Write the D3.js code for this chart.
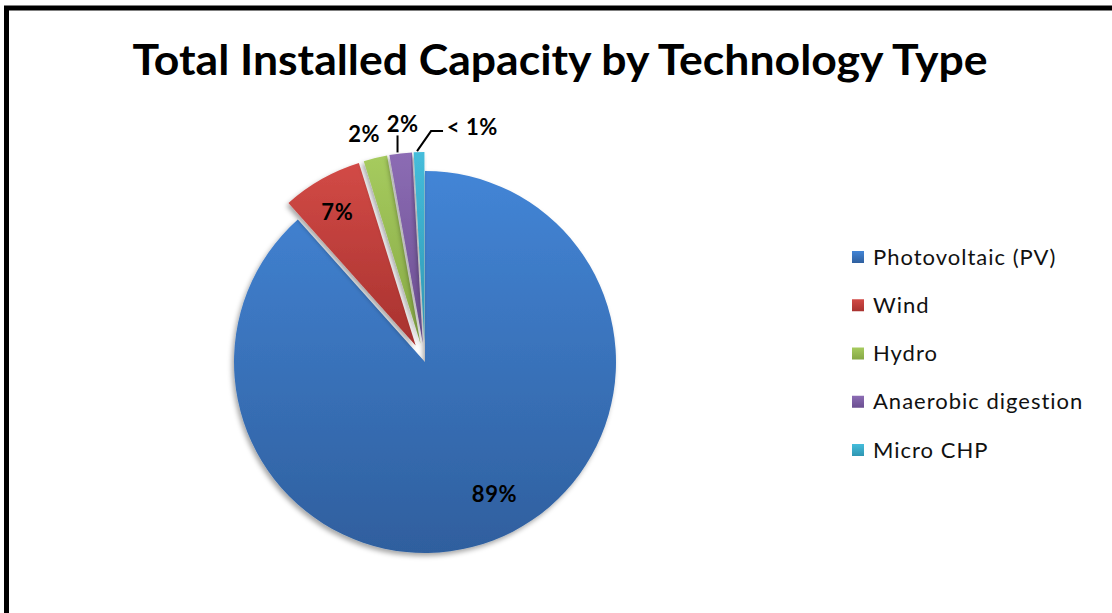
<!DOCTYPE html>
<html>
<head>
<meta charset="utf-8">
<script src="https://cdn.jsdelivr.net/npm/d3@7"></script>
<style>
  body { margin:0; background:#fff; }
  svg { display:block; }
  text { font-family: Lato, "Open Sans", sans-serif; }
</style>
</head>
<body>
<script>
// chart data
const title = 'Total Installed Capacity by Technology Type'
const categories = ['Photovoltaic (PV)','Wind','Hydro','Anaerobic digestion','Micro CHP']
const shares = [88.4, 6.8, 2.0, 1.9, 0.9]
const labels = ['89%','7%','2%','2%','< 1%']
const exploded = [false, true, true, true, true]
const colors = [['#4385d6','#2f5f9e'],['#d24a46','#a8322f'],['#a6cb5e','#86a845'],['#8c6cb4','#6a4e90'],['#45bddb','#2f96b2']]

const width = 1112, height = 613
const cx = 425, cy = 362, r = 191, explode = 19

const svg = d3.select('body').append('svg').attr('width',width).attr('height',height)

const defs = svg.append('defs')
colors.forEach((c,i) => {
  const lg = defs.append('linearGradient').attr('id','g'+i).attr('x1',0).attr('y1',0).attr('x2',0).attr('y2',1)
  lg.append('stop').attr('offset','0%').attr('stop-color',c[0])
  lg.append('stop').attr('offset','100%').attr('stop-color',c[1])
})
defs.append('filter').attr('id','shadow').attr('x','-20%').attr('y','-20%').attr('width','140%').attr('height','140%')
  .append('feDropShadow').attr('dx',-2).attr('dy',3).attr('stdDeviation',2.5).attr('flood-color','#000').attr('flood-opacity',0.35)

// frame
svg.append('rect').attr('x',6.5).attr('y',8).attr('width',width+20).attr('height',height+20)
  .attr('fill','none').attr('stroke','#000').attr('stroke-width',5)

svg.append('text').attr('x',560).attr('y',75).attr('text-anchor','middle')
  .attr('font-size',42).attr('font-weight','bold').attr('fill','#000')
  .attr('textLength',855).attr('lengthAdjust','spacingAndGlyphs')
  .text(title)

const data = categories.map((c,i) => ({name:c, value:shares[i], label:labels[i], exploded:exploded[i], i}))
const pie = d3.pie().value(d => d.value).sort(null)
const arcs = pie(data)
const arc = d3.arc().innerRadius(0).outerRadius(r)

function offset(a){
  if(!a.data.exploded) return [0,0]
  const m = (a.startAngle+a.endAngle)/2
  return [Math.sin(m)*explode, -Math.cos(m)*explode]
}

const g = svg.append('g').attr('transform',`translate(${cx},${cy})`)
g.selectAll('path.slice').data(arcs).enter().append('path')
  .attr('class','slice')
  .attr('transform',d => `translate(${offset(d)})`)
  .attr('d',arc)
  .attr('fill',d => `url(#g${d.data.i})`)
  .attr('filter','url(#shadow)')

// labels
const inner = d3.arc().innerRadius(150).outerRadius(150)
const outer = d3.arc().innerRadius(236).outerRadius(236)
const labelNudge = [[16,-8],[0,0],[-5,2],[5,-3],[54,1]]

g.selectAll('text.lbl').data(arcs).enter().append('text')
  .attr('class','lbl')
  .attr('transform',d => {
    let p = d.data.i < 2 ? inner.centroid(d) : outer.centroid(d)
    if(d.data.i == 1){ p = d3.arc().innerRadius(155).outerRadius(155).centroid(d); const o = offset(d); p = [p[0]+o[0]-2,p[1]+o[1]+2] }
    const n = labelNudge[d.data.i]
    return `translate(${p[0]+n[0]},${p[1]+n[1]})`
  })
  .attr('text-anchor','middle').attr('dy','0.35em')
  .attr('font-size',22).attr('font-weight','bold').attr('letter-spacing',0.6).attr('fill','#000')
  .text(d => d.data.label)

// leader lines for AD and CHP
const edge = d3.arc().innerRadius(r+1).outerRadius(r+1)
const lead = g.append('g').attr('fill','none').attr('stroke','#000').attr('stroke-width',2)
arcs.filter(a => a.data.i >= 3).forEach(a => {
  const o = offset(a)
  const e = edge.centroid(a)
  const s = [e[0]+o[0], e[1]+o[1]]
  if(a.data.i == 3){
    lead.append('path').attr('d',d3.line()([[s[0]-3,s[1]],[s[0]-3,s[1]-17]]))
  } else {
    const lp = outer.centroid(a)
    lead.append('path').attr('d',d3.line()([[s[0]-2,s[1]],[s[0]+12,lp[1]+5],[s[0]+24,lp[1]+5]]))
  }
})

// legend
const legend = svg.append('g').attr('transform','translate(852,257)')
const ly = d3.scalePoint().domain(categories).range([0,193])
const items = legend.selectAll('g').data(data).enter().append('g')
  .attr('transform',d => `translate(0,${ly(d.name)})`)
items.append('rect').attr('x',0).attr('y',-6).attr('width',12).attr('height',12)
  .attr('fill',d => `url(#g${d.i})`)
items.append('text').attr('x',21).attr('dy','0.35em').attr('font-size',22).attr('letter-spacing',1).attr('fill','#111')
  .text(d => d.name)
</script>
</body>
</html>
